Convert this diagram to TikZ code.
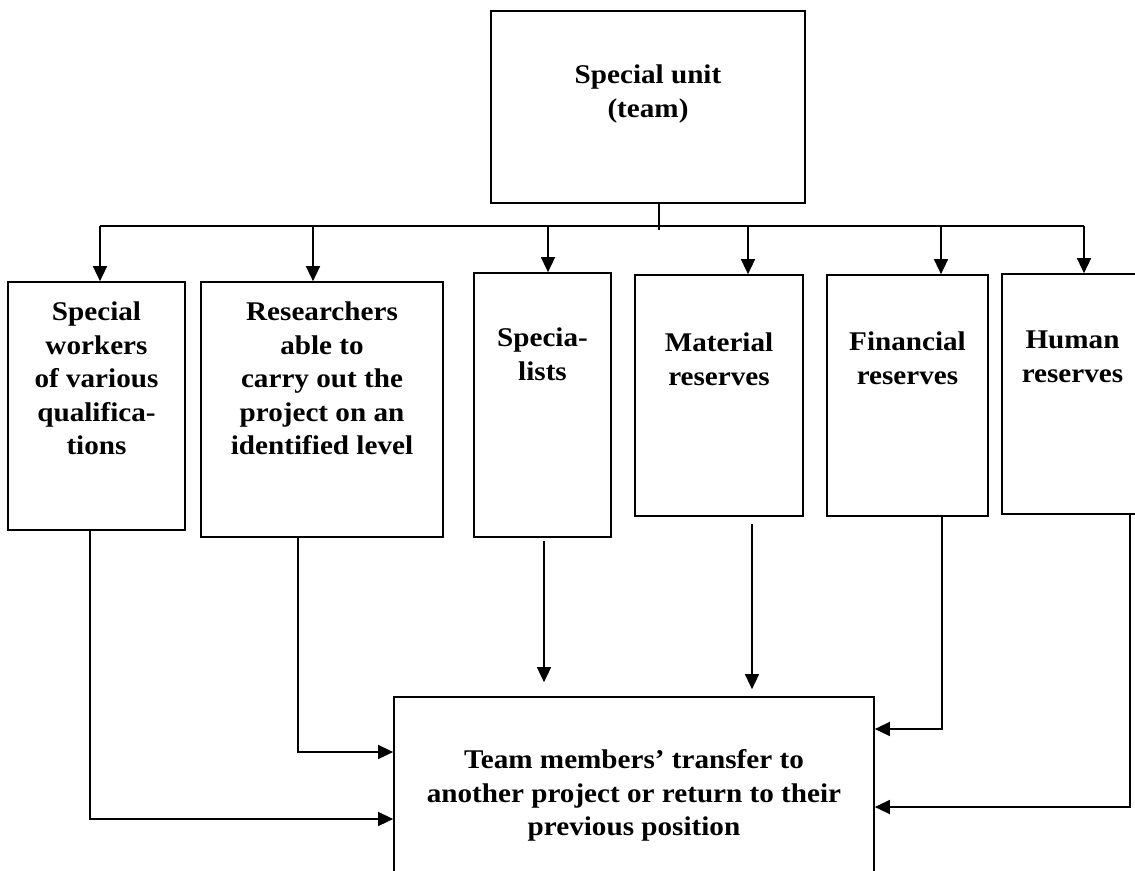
\documentclass[tikz,border=0pt]{standalone}
\usepackage{fontspec}
\setmainfont{Liberation Serif}[FakeStretch=1.08]
\usetikzlibrary{arrows.meta,positioning}

\tikzset{
  box/.style={draw,line width=1.7pt,inner sep=0pt},
  txt/.style={align=center,inner sep=0pt,font=\fontsize{27}{33.5}\selectfont\bfseries},
}

\begin{document}
\begin{tikzpicture}[x=1pt,y=-1pt,>={Triangle[length=15pt,width=14pt]},line width=1.5pt]
    \useasboundingbox (0,0) rectangle (1135,870);
    \clip (0,0) rectangle (1135,870);

    \node[box,minimum width=314pt,minimum height=192pt] (unit) at (648,107) {};
    \node[box,minimum width=177pt,minimum height=248pt] (workers) at (96.5,406) {};
    \node[box,minimum width=242pt,minimum height=255pt] (research) at (322,409.5) {};
    \node[box,minimum width=137pt,minimum height=264pt] (specialists) at (542.5,405) {};
    \node[box,minimum width=168pt,minimum height=241pt] (material) at (719,395.5) {};
    \node[box,minimum width=161pt,minimum height=241pt] (financial) at (907.5,395.5) {};
    \node[box,minimum width=141pt,minimum height=240pt] (human) at (1072.5,394) {};
    \node[box,minimum width=480pt,minimum height=306pt] (transfer) at (634,850) {};

    \node[txt,below=54pt of unit.north] {Special unit\\(team)};
    \node[txt,below=20pt of workers.north] {Special\\workers\\of various\\qualifica-\\tions};
    \node[txt,below=20pt of research.north] {Researchers\\able to\\carry out the\\project on an\\identified level};
    \node[txt,below=55pt of specialists.north] {Specia-\\lists};
    \node[txt,below=58pt of material.north] {Material\\reserves};
    \node[txt,below=57pt of financial.north] {Financial\\reserves};
    \node[txt,below=57pt of human.north] {Human\\reserves};
    \node[txt,below=53pt of transfer.north] {Team members’ transfer to\\another project or return to their\\previous position};

    % distribution bus
    \coordinate (busL) at (100,226);
    \coordinate (busR) at (1084,226);
    \draw ([xshift=11pt]unit.south) -- ++(0,-26pt);
    \draw (busL) -- (busR);
    \foreach \x/\b in {100/workers,313/research,548/specialists,748/material,941/financial,1084/human}
        \draw[->] (\x,226) -- (\x,226 |- \b.north);

    % back to the transfer box
    \draw[->] ([xshift=-6.5pt]workers.south) |- ([yshift=31pt]transfer.west);
    \draw[->] ([xshift=-24pt]research.south) |- ([yshift=98pt]transfer.west);
    \draw[->] ([shift={(1.5pt,-3pt)}]specialists.south) -- ([shift={(-90pt,14pt)}]transfer.north);
    \draw[->] ([shift={(33pt,-7pt)}]material.south) -- ([shift={(118pt,7pt)}]transfer.north);
    \draw[->] ([xshift=34.5pt]financial.south) |- ([yshift=121pt]transfer.east);
    \draw[->] ([xshift=57.5pt]human.south) |- ([yshift=43pt]transfer.east);
\end{tikzpicture}
\end{document}
